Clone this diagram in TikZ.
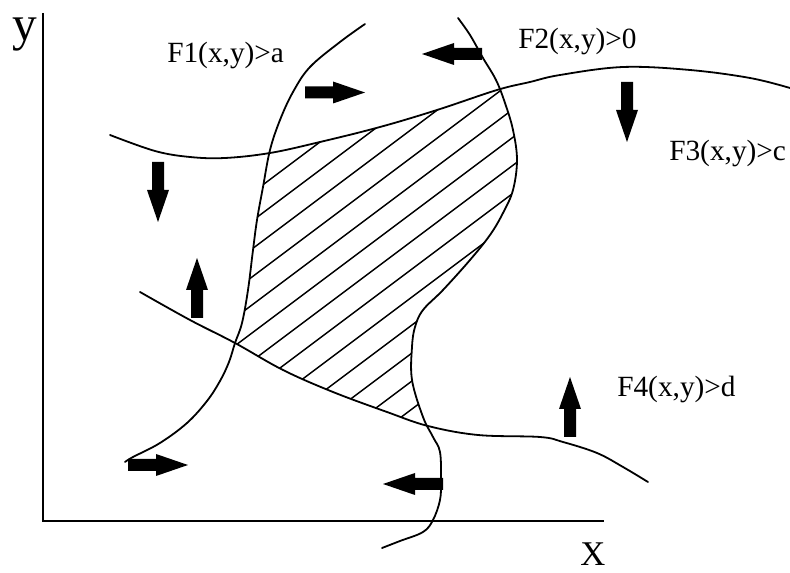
\documentclass[tikz,border=0pt]{standalone}
\usepackage{fontspec}
\setmainfont{Liberation Serif}
\newcommand\FOnePath{plot[smooth,tension=0.6] coordinates {(365,24) (340,42) (310,67) (293,92) (280,120) (270,150) (263,187) (257,220) (253,250) (248,290) (242,323) (235,343) (229,362) (220,381) (207,401) (187,423) (160,443) (133,457) (125,462)}}
\newcommand\FTwoPath{plot[smooth,tension=0.6] coordinates {(458,18) (470,35) (483,58) (496,80) (505,103) (513,130) (517,160) (513,190) (503,213) (490,235) (470,260) (443,290) (423,310) (415,327) (412,347) (412,380) (423,417) (433,437) (440,452) (441,480) (440,500) (433,520) (423,532) (400,541) (382,548)}}
\newcommand\FThreePath{plot[smooth,tension=0.6] coordinates {(110,135) (155,151) (190,157) (225,158) (270,153) (320,142) (380,127) (437,110) (497,90) (530,82) (560,75) (623,67) (690,70) (750,78) (790,88)}}
\newcommand\FFourPath{plot[smooth,tension=0.6] coordinates {(140,292) (190,320) (235,343) (283,370) (333,392) (387,412) (428,426) (478,435) (540,437) (563,442) (597,453) (623,467) (648,482)}}
\begin{document}
\begin{tikzpicture}[x=0.75pt,y=-0.75pt,
  curve/.style={line width=1.35pt,line join=round,line cap=round},
  axis/.style={line width=1.8pt},
  hatch/.style={line width=1.1pt},
  lab/.style={font=\fontsize{22}{26}\selectfont,anchor=base west,inner sep=0pt},
  barrow/.pic={\fill (0,-6) -- (28,-6) -- (28,-11) -- (60,0) -- (28,11) -- (28,6) -- (0,6) -- cycle;}]
\useasboundingbox (0,0) rectangle (790,573);
% hatching
\begin{scope}
  \clip \FOnePath -- (125,600) -- (800,600) -- (800,-10) -- (365,-10) -- cycle;
  \clip \FThreePath -- (800,600) -- (110,600) -- cycle;
  \clip \FTwoPath -- (382,600) -- (0,600) -- (0,-10) -- (458,-10) -- cycle;
  \clip \FFourPath -- (800,482) -- (800,-10) -- (140,-10) -- cycle;
  \foreach \k in {-3,...,15}{
    \pgfmathsetmacro\cc{382+28*\k}
    \draw[hatch] (200,{\cc-150}) -- (560,{\cc-420});
  }
\end{scope}
% curves
\draw[curve] \FOnePath;
\draw[curve] \FTwoPath;
\draw[curve] \FThreePath;
\draw[curve] \FFourPath;
% axes
\draw[axis] (43,13) -- (43,521) -- (604,521);
% arrows
\pic at (305,92.5) {barrow};
\pic[rotate=-90] at (158,162) {barrow};
\pic[rotate=90] at (197,318) {barrow};
\pic[rotate=180] at (482,54) {barrow};
\pic[rotate=-90] at (627,82) {barrow};
\pic at (128,465) {barrow};
\pic[rotate=180] at (443,484) {barrow};
\pic[rotate=90] at (570,437) {barrow};
% labels
\node[lab] (f1) at (167,63) {F1(x,y)>a};
\node[lab] (f2) at (518,49) {F2(x,y)>0};
\node[lab] (f3) at (669,161) {F3(x,y)>c};
\node[lab] (f4) at (617,397) {F4(x,y)>d};
\node[anchor=base west,inner sep=0pt,font=\fontsize{37}{40}\selectfont] (ylab) at (12,41) {y};
\node[anchor=base west,inner sep=0pt,font=\fontsize{26}{28}\selectfont] (xlab) at (580,566) {X};
\end{tikzpicture}
\end{document}
